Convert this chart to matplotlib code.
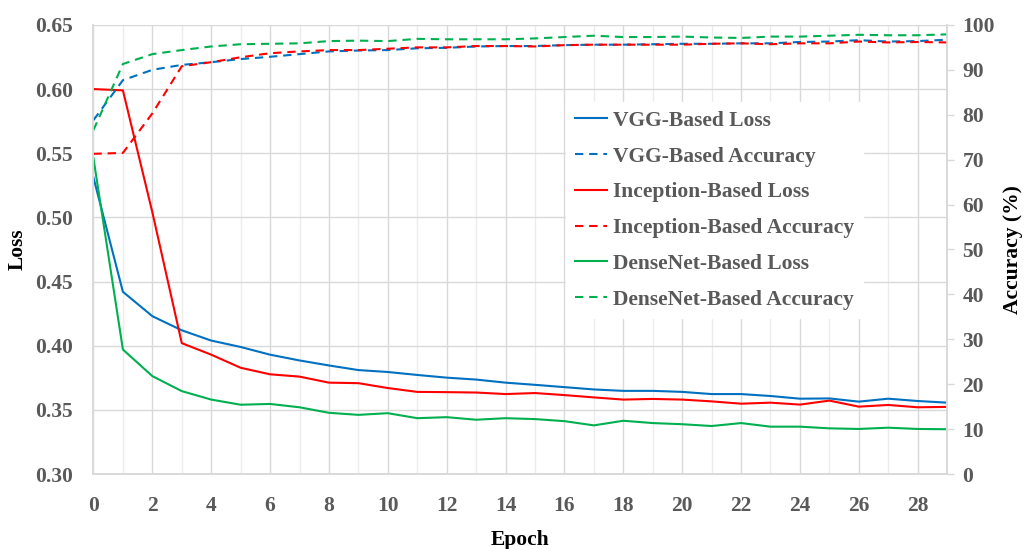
import matplotlib
matplotlib.use('Agg')
import matplotlib.pyplot as plt
from matplotlib.ticker import MultipleLocator

# Epochs and per-model curves
epochs = list(range(30))

vgg_loss = [0.531, 0.442, 0.423, 0.412, 0.404, 0.399, 0.393, 0.3885, 0.3846, 0.381,
            0.3795, 0.3772, 0.3751, 0.3736, 0.3712, 0.3695, 0.3677, 0.3659, 0.3648, 0.3648,
            0.3640, 0.3623, 0.3623, 0.3608, 0.3587, 0.3589, 0.3564, 0.3587, 0.3569, 0.3556]
inc_loss = [0.600, 0.599, 0.504, 0.402, 0.393, 0.3828, 0.3777, 0.3759, 0.3712, 0.3708,
            0.367, 0.364, 0.3638, 0.3635, 0.3623, 0.3631, 0.3615, 0.3597, 0.358, 0.3585,
            0.358, 0.3566, 0.3548, 0.3556, 0.3541, 0.3572, 0.3525, 0.3538, 0.352, 0.3523]
dense_loss = [0.546, 0.397, 0.3763, 0.3646, 0.358, 0.354, 0.3546, 0.352, 0.3477, 0.3461,
              0.3474, 0.3435, 0.3443, 0.3423, 0.3435, 0.3428, 0.3412, 0.3379, 0.3415, 0.3397,
              0.3388, 0.3374, 0.3397, 0.3369, 0.3369, 0.3356, 0.3351, 0.3361, 0.3351, 0.3349]

vgg_acc = [78.8, 87.7, 90.0, 91.1, 91.7, 92.4, 92.9, 93.5, 94.1, 94.3,
           94.4, 94.8, 94.9, 95.2, 95.3, 95.3, 95.5, 95.6, 95.6, 95.7,
           95.8, 95.8, 95.9, 95.9, 96.2, 96.3, 96.6, 96.3, 96.4, 96.7]
inc_acc = [71.3, 71.5, 80.3, 90.8, 91.7, 92.8, 93.7, 94.1, 94.4, 94.4,
           94.7, 95.0, 95.0, 95.3, 95.3, 95.2, 95.5, 95.6, 95.6, 95.6,
           95.6, 95.8, 95.9, 95.7, 95.9, 95.9, 96.3, 96.1, 96.2, 96.1]
dense_acc = [76.6, 91.3, 93.5, 94.4, 95.2, 95.7, 95.8, 95.9, 96.4, 96.5,
             96.4, 96.9, 96.8, 96.8, 96.8, 97.0, 97.3, 97.6, 97.3, 97.3,
             97.4, 97.2, 97.1, 97.4, 97.4, 97.6, 97.8, 97.7, 97.7, 97.9]

labels = ['VGG-Based Loss', 'VGG-Based Accuracy',
          'Inception-Based Loss', 'Inception-Based Accuracy',
          'DenseNet-Based Loss', 'DenseNet-Based Accuracy']

blue, red, green = '#0070C0', '#FF0000', '#00B050'
gray = '#595959'
serif = ['Liberation Serif', 'DejaVu Serif']
plt.rcParams['font.family'] = serif
plt.rcParams['font.weight'] = 'bold'
plt.rcParams['axes.labelweight'] = 'bold'

fig = plt.figure(figsize=(10.26, 5.49), dpi=100)
ax = fig.add_axes([0.0911, 0.1366, 0.832, 0.818])
ax2 = ax.twinx()

lw = 1.5
dash = (0, (4, 2.8))
l1, = ax.plot(epochs, vgg_loss, color=blue, lw=lw)
l3, = ax.plot(epochs, inc_loss, color=red, lw=lw)
l5, = ax.plot(epochs, dense_loss, color=green, lw=lw)
l2, = ax2.plot(epochs, vgg_acc, color=blue, lw=lw, linestyle=dash)
l4, = ax2.plot(epochs, inc_acc, color=red, lw=lw, linestyle=dash)
l6, = ax2.plot(epochs, dense_acc, color=green, lw=lw, linestyle=dash)

ax.set_xlim(0, 29)
ax.set_ylim(0.30, 0.65)
ax2.set_ylim(0, 100)
ax.xaxis.set_major_locator(MultipleLocator(2))
ax.xaxis.set_minor_locator(MultipleLocator(1))
ax.yaxis.set_major_locator(MultipleLocator(0.05))
ax2.yaxis.set_major_locator(MultipleLocator(10))
ax.yaxis.set_major_formatter(plt.FuncFormatter(lambda v, p: f'{v:.2f}'))

ax.grid(True, which='major', color='#D9D9D9', lw=1)
ax.grid(True, which='minor', axis='x', color='#ECECEC', lw=1)
ax.set_axisbelow(True)

for a in (ax, ax2):
    for s in a.spines.values():
        s.set_color('#D9D9D9')
        s.set_linewidth(1.2)
    a.spines['top'].set_visible(False)
ax.tick_params(axis='both', which='both', length=0, labelsize=15.5, labelcolor=gray)
ax.tick_params(axis='y', pad=15)
ax.tick_params(axis='x', pad=16)
ax2.tick_params(axis='y', length=5, width=1, color='#D9D9D9', labelsize=15.5,
                labelcolor=gray, pad=6)

ax.set_xlabel('Epoch', fontsize=15.5, color='black', labelpad=10)
ax.set_ylabel('Loss', fontsize=15.5, color='black', labelpad=5)
ax2.set_ylabel('Accuracy (%)', fontsize=15.5, color='black', labelpad=6)

leg = ax2.legend([l1, l2, l3, l4, l5, l6], labels, loc='upper left',
                 bbox_to_anchor=(0.541, 0.852), fontsize=15.5, frameon=True,
                 handlelength=1.5, handletextpad=0.3, labelspacing=0.73,
                 borderpad=0.4, fancybox=False)
leg.get_frame().set_edgecolor('white')
leg.get_frame().set_facecolor('white')
leg.get_frame().set_alpha(1)
for t in leg.get_texts():
    t.set_color(gray)

fig.savefig('out.png', dpi=100)
